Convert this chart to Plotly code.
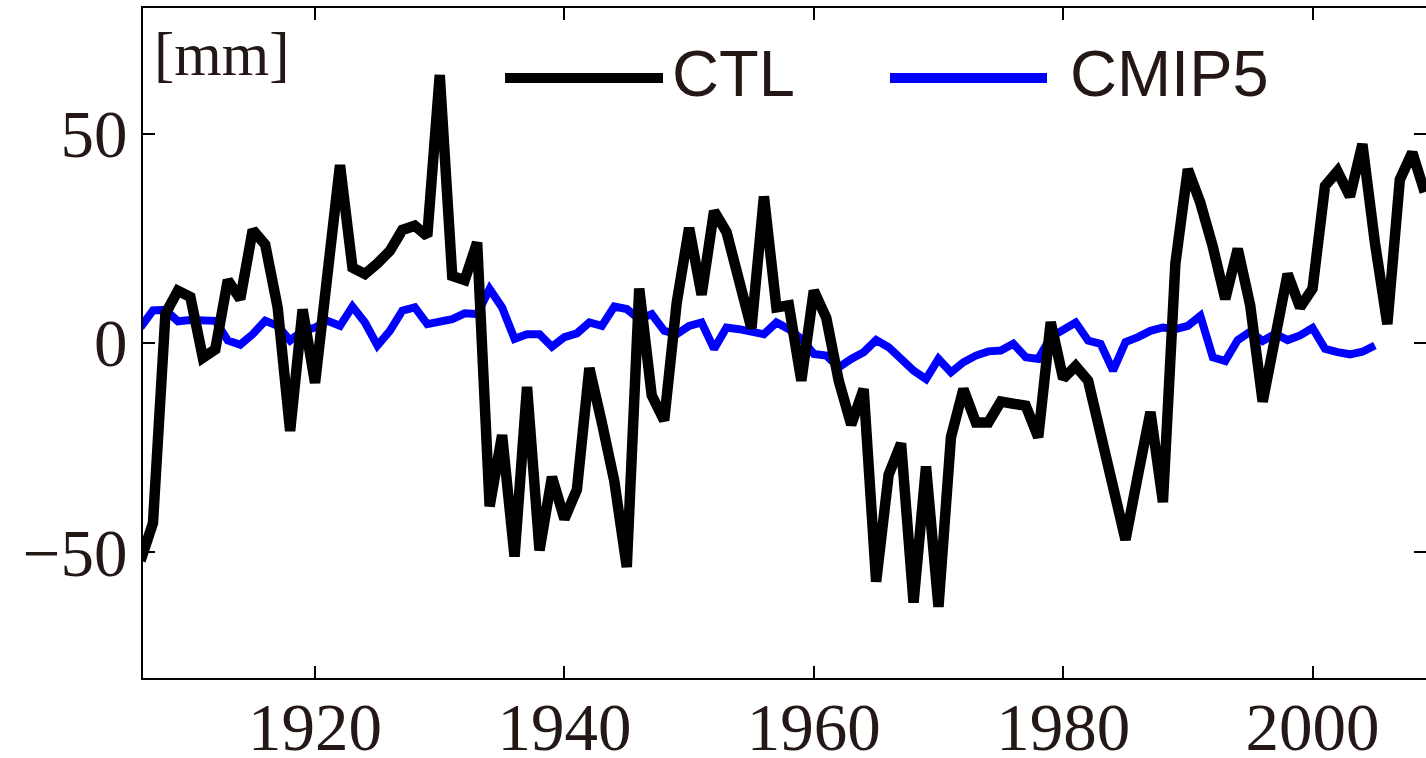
import plotly.graph_objects as go

years_ctl = list(range(1906, 2010))
ctl = [-52, -43, 7, 12.5, 11, -3.5, -1.5, 15, 10.5, 27,
       23.5, 8.5, -21, 8, -9.5, 19, 42.5, 18, 16.5, 19,
       22, 27, 28, 25.5, 64, 16, 15, 24, -39, -22,
       -51, -10.5, -49.5, -32, -42, -35, -6, -19, -33, -53.5,
       13, -12.5, -18.5, 9.5, 27.5, 11.5, 31.5, 26.5, 15, 3.5,
       35, 8.5, 9, -9, 12.5, 6, -9, -19.5, -11, -57,
       -31.5, -24, -62, -29.5, -63, -22.5, -11, -19, -19, -14,
       -14.5, -15, -22.5, 5, -8.5, -5.5, -9, -21.5, -34.5, -47,
       -31.5, -16.5, -38, 19, 41.5, 33.5, 23, 10.5, 22.5, 9,
       -14, 1, 16.5, 8.5, 13, 37.5, 41, 35, 47.5, 24,
       4.5, 39, 45.5, 36]

years_cmip = list(range(1906, 2006))
cmip5 = [3.7, 7.8, 7.9, 5.2, 5.5, 5.3, 5.3, 0.6, -0.4, 2.1,
         5.3, 4.1, 0.6, 2.9, 3.7, 5.3, 4.1, 8.7, 4.9, -0.6,
         2.9, 7.7, 8.5, 4.5, 5.2, 5.7, 7.1, 6.9, 12.9, 8.5,
         1.0, 2.1, 2.1, -0.9, 1.4, 2.3, 4.9, 4.1, 8.7, 8.1,
         5.7, 6.9, 2.9, 2.1, 4.1, 4.9, -1.4, 3.7, 3.3, 2.5,
         2.1, 4.9, 3.3, 1.0, -2.6, -3.0, -5.8, -3.8, -2.2, 0.7,
         -1.0, -3.8, -6.6, -8.6, -3.8, -7.0, -4.6, -3.0, -2.0, -1.8,
         -0.2, -3.4, -3.8, 1.4, 2.9, 4.9, 0.6, -0.2, -6.6, 0.2,
         1.4, 2.9, 3.7, 3.3, 4.1, 6.5, -3.4, -4.3, 0.7, 2.7,
         0.5, 2.2, 0.7, 1.8, 3.6, -1.4, -2.2, -2.7, -2.1, -0.6]

x_ticks = [1920, 1940, 1960, 1980, 2000]
y_ticks = [-50, 0, 50]
series_names = ["CTL", "CMIP5"]
unit_label = "[mm]"

TXT = "#231815"
SERIF = "Liberation Serif, Times New Roman, serif"
SANS = "Liberation Sans, Arial, sans-serif"

fig = go.Figure()
fig.add_trace(go.Scatter(x=years_cmip, y=cmip5, mode="lines", name=series_names[1],
                         line=dict(color="#0000FF", width=8), showlegend=False))
fig.add_trace(go.Scatter(x=years_ctl, y=ctl, mode="lines", name=series_names[0],
                         line=dict(color="#000000", width=10.5), showlegend=False))

fig.update_layout(
    width=1426, height=758,
    margin=dict(l=143, r=0, t=8, b=80, autoexpand=False),
    paper_bgcolor="white", plot_bgcolor="white",
    showlegend=False,
)
fig.update_xaxes(range=[1906.2, 2009.1], tickmode="array", tickvals=x_ticks,
                 ticks="inside", ticklen=12, tickwidth=2, tickcolor="#000000",
                 showline=True, linewidth=2, linecolor="#000000", mirror="ticks",
                 showgrid=False, zeroline=False, automargin=False,
                 ticklabelstandoff=-10,
                 tickfont=dict(family=SERIF, size=67, color=TXT))
fig.update_yaxes(range=[-80, 80], tickmode="array", tickvals=y_ticks,
                 ticks="inside", ticklen=12, tickwidth=2, tickcolor="#000000",
                 showline=True, linewidth=2, linecolor="#000000", mirror="ticks",
                 showgrid=False, zeroline=False, automargin=False,
                 tickfont=dict(family=SERIF, size=67, color=TXT))

# unit label
fig.add_annotation(x=0.007, y=0.93, xref="paper", yref="paper", text=unit_label,
                   showarrow=False, xanchor="left", yanchor="middle",
                   font=dict(family=SERIF, size=61, color=TXT))

# manual legend
leg_y = 0.8955
for (x0, x1, tx, name, col) in [(0.2822, 0.4053, 0.4108, series_names[0], "#000000"),
                                (0.5822, 0.7046, 0.721, series_names[1], "#0000FF")]:
    fig.add_shape(type="line", xref="paper", yref="paper", x0=x0, x1=x1, y0=leg_y, y1=leg_y,
                  line=dict(color=col, width=10))
    fig.add_annotation(x=tx, y=leg_y + 0.006, xref="paper", yref="paper", text=name,
                       showarrow=False, xanchor="left", yanchor="middle",
                       font=dict(family=SANS, size=65, color=TXT))

fig.write_html("out.html")
